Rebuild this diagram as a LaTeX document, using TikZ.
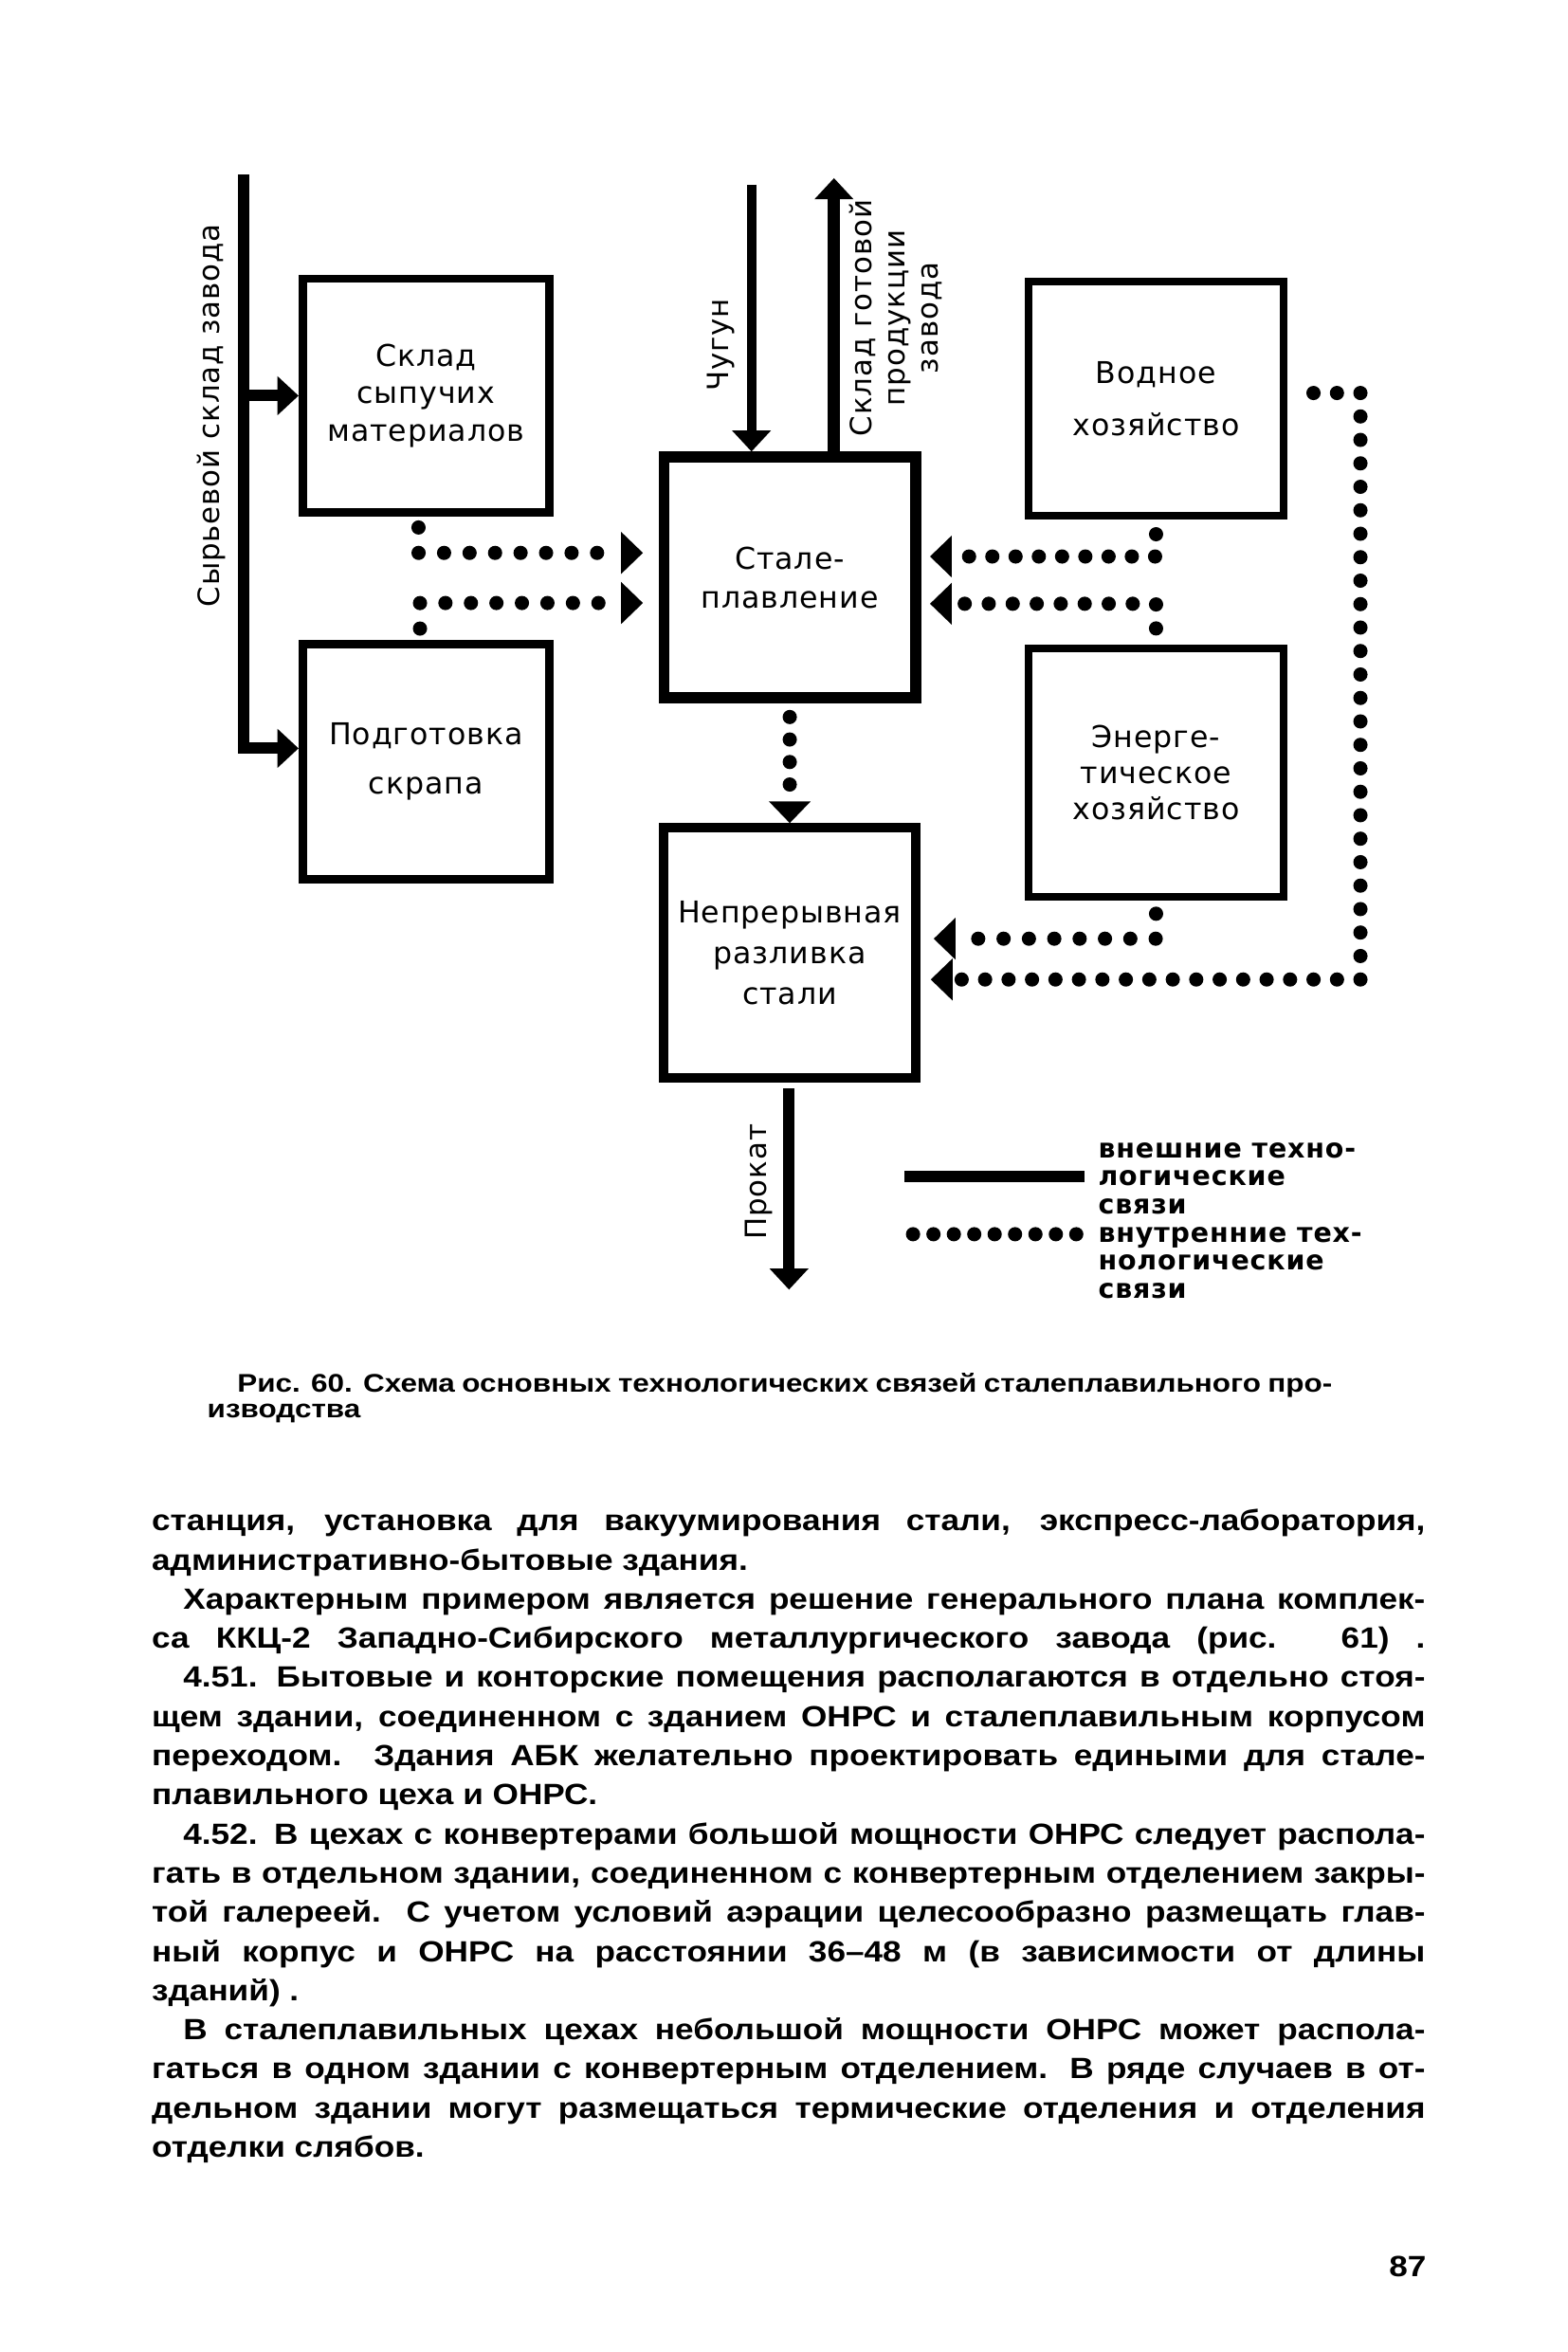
\documentclass[tikz,border=0pt]{standalone}
\usepackage{fontspec}
\setmainfont{Liberation Sans}
\newfontfamily\diagfont[LetterSpace=3.0]{DejaVu Sans}
\newfontfamily\pagefont[FakeStretch=1.14]{Liberation Sans}
\newfontfamily\capfont[FakeStretch=1.17]{Liberation Sans}
\usetikzlibrary{positioning, arrows.meta, calc}

\begin{document}
\begin{tikzpicture}[
    x=1pt, y=-1pt,
    unit/.style={rectangle, draw, line width=5pt, inner sep=0pt, align=center,
                 font=\diagfont\fontsize{20}{25}\selectfont},
    core/.style={unit, line width=7.5pt},
    lines/.style={font=\diagfont\fontsize{20}{#1}\selectfont},
    ext/.style={line width=7.5pt, -{Triangle[length=14pt, width=26pt, line width=0pt]}},
    intl/.style={line width=9.5pt, line cap=round, dash pattern=on 0pt off #1,
                 -{Triangle[length=14.5pt, width=28pt, line width=0pt]}},
    intl/.default=16pt,
    lbl/.style={font=\diagfont\fontsize{19.5}{22}\selectfont, rotate=90,
                align=center, inner sep=0pt},
    legend/.style={font=\diagfont\bfseries\fontsize{18}{18.5}\selectfont,
                   align=left, inner sep=0pt, anchor=west},
    caption/.style={font=\capfont\bfseries\fontsize{17}{17}\selectfont,
                    align=left, inner sep=0pt, anchor=base west},
    bodyline/.style={font=\pagefont\bfseries\fontsize{19.5}{26}\selectfont,
                     inner sep=0pt, anchor=base west}
]
\path[fill=white, use as bounding box] (0,0) rectangle (1045,1568);

% units of the shop
\node[unit, line width=5.5pt, minimum width=164.5pt, minimum height=156pt] (sklad) at (284,263.8) {Склад\\сыпучих\\материалов};
\node[unit, line width=5.5pt, lines=33, minimum width=164.5pt, minimum height=156.8pt, below=82.2pt of sklad] (podg) {Подготовка\\скрапа};
\node[core, lines=26, minimum width=167.5pt, minimum height=160.5pt] (stal) at (526.5,385) {Стале-\\плавление};
\node[unit, line width=6pt, lines=27.4, minimum width=168pt, minimum height=167pt, below=79.7pt of stal] (nepr) {Непрерывная\\разливка\\стали};
\node[unit, lines=35, minimum width=170.5pt, minimum height=156.5pt] (vod) at (770.7,265.7) {Водное\\хозяйство};
\node[unit, lines=24, minimum width=169.6pt, minimum height=165.5pt, below=83.5pt of vod] (energ) {Энерге-\\тическое\\хозяйство};

% free ends of the external links
\coordinate (rawtop) at (162.4,116.5);
\coordinate (chug) at (501,123);
\coordinate (gotov) at (556,118.8);
\coordinate (prok) at (526,859.7);

\node[lbl] (rawlbl) at (141,277) {Сырьевой склад завода};
\node[lbl] (chuglbl) at (480.5,230) {Чугун};
\node[lbl] (gotovlbl) at (597,212) {Склад готовой\\продукции\\завода};
\node[lbl] (proklbl) at (506,788) {Прокат};

% external links
\draw[ext] (rawtop) |- ([yshift=9pt]podg.west);
\draw[ext] (rawtop |- sklad.west) -- (sklad.west);
\draw[ext, line width=6.3pt] (chug) -- (chug |- stal.north);
\draw[ext, line width=8pt] (gotov |- stal.north) -- (gotov);
\draw[ext, shorten <=4pt] (nepr.south -| prok) -- (prok);

% internal links
\draw[intl=17pt, shorten <=7.1pt, shorten >=10.4pt] ([xshift=-5pt]sklad.south) |- ([yshift=16.4pt]stal.west);
\draw[intl=17pt, shorten <=7.7pt, shorten >=10.4pt] ([xshift=-4pt]podg.north) |- ([yshift=-17pt]stal.west);
\draw[intl=15.5pt, shorten <=9.7pt, shorten >=6pt] (vod.south) |- ([yshift=14pt]stal.east);
\draw[intl=16pt, shorten <=11pt, shorten >=6pt] (energ.north) |- ([yshift=-17.5pt]stal.east);
\draw[intl=16.9pt, shorten <=8.7pt, shorten >=9pt] (energ.south) |- ([yshift=9.4pt]nepr.east);
\draw[intl=15.64pt, shorten <=17.2pt, shorten >=7pt] ([yshift=3.7pt]vod.east) -- ++(48.5,0) |- ([yshift=-17.8pt]nepr.east);
\draw[intl=15pt, shorten <=9pt] (stal.south) -- (nepr.north);

% legend
\coordinate (extA) at (603,784.5);
\coordinate (extB) at (723,784.5);
\coordinate (intA) at (608.7,822.8);
\coordinate (intB) at (718,822.8);
\draw[line width=7.4pt] (extA) -- (extB);
\draw[intl=13.6pt, -] (intA) -- (intB);
\node[legend] (extlbl) at (732,785.6) {внешние техно-\\логические\\связи};
\node[legend] (intlbl) at (732,841.8) {внутренние тех-\\нологические\\связи};

% caption and page text
\node[caption] (capt) at (138,945) {\hspace*{20pt}\makebox[730pt][s]{Рис. 60. Схема основных технологических связей сталеплавильного про-}\\изводства};

\foreach \k/\lx/\lw/\la/\lt in {
  1/101/849/s/{станция, установка для вакуумирования стали, экспресс-лаборатория,},
  2/101/849/l/{административно-бытовые здания.},
  3/122/828/s/{Характерным примером является решение генерального плана комплек-},
  4/101/849/s/{са ККЦ-2 Западно-Сибирского металлургического завода (рис. 61) .},
  5/122/828/s/{4.51. Бытовые и конторские помещения располагаются в отдельно стоя-},
  6/101/849/s/{щем здании, соединенном с зданием ОНРС и сталеплавильным корпусом},
  7/101/849/s/{переходом. Здания АБК желательно проектировать едиными для стале-},
  8/101/849/l/{плавильного цеха и ОНРС.},
  9/122/828/s/{4.52. В цехах с конвертерами большой мощности ОНРС следует распола-},
  10/101/849/s/{гать в отдельном здании, соединенном с конвертерным отделением закры-},
  11/101/849/s/{той галереей. С учетом условий аэрации целесообразно размещать глав-},
  12/101/849/s/{ный корпус и ОНРС на расстоянии 36–48 м (в зависимости от длины},
  13/101/849/l/{зданий) .},
  14/122/828/s/{В сталеплавильных цехах небольшой мощности ОНРС может распола-},
  15/101/849/s/{гаться в одном здании с конвертерным отделением. В ряде случаев в от-},
  16/101/849/s/{дельном здании могут размещаться термические отделения и отделения},
  17/101/849/l/{отделки слябов.}}
  \node[bodyline] (line\k) at (\lx,{1020.5+26.1*(\k-1)}) {\makebox[\lw pt][\la]{\lt}};

\node[bodyline, anchor=base east] (pgnum) at (951,1518) {87};
\end{tikzpicture}
\end{document}
